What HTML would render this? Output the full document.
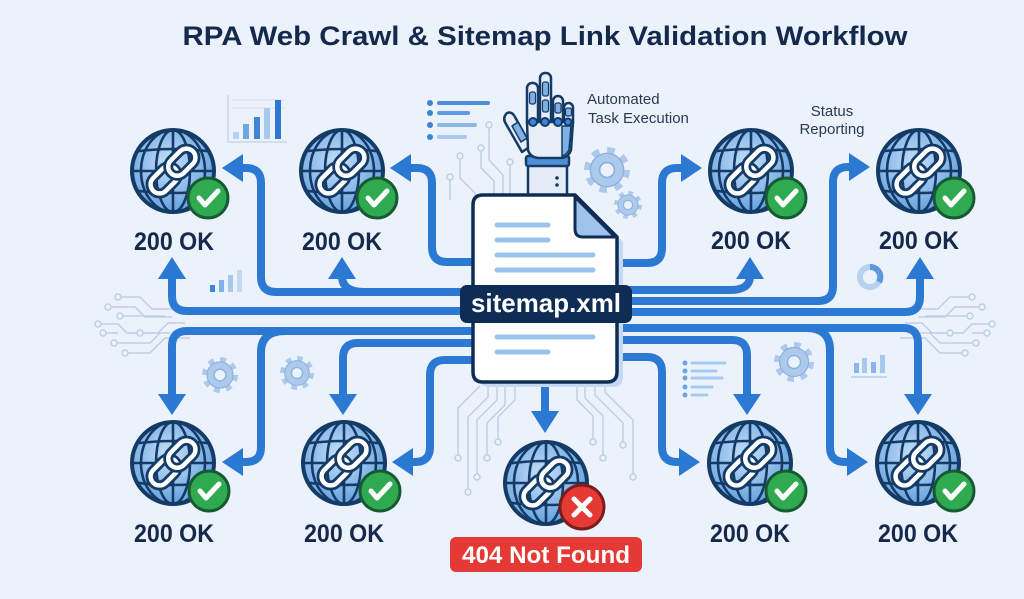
<!DOCTYPE html>
<html><head><meta charset="utf-8"><style>
html,body{margin:0;padding:0;background:#ebf2fb;}
svg{display:block;}
</style></head><body>
<svg width="1024" height="599" viewBox="0 0 1024 599" xmlns="http://www.w3.org/2000/svg" font-family="'Liberation Sans', sans-serif">
<defs>
 <radialGradient id="gg" cx="0.45" cy="0.4" r="0.65">
  <stop offset="0" stop-color="#c6e0f8"/>
  <stop offset="1" stop-color="#5e9cdc"/>
 </radialGradient>
 <clipPath id="gc"><circle r="40"/></clipPath>
 <g id="globe">
  <circle r="41" fill="url(#gg)"/>
  <g fill="none" stroke="#143a66" stroke-width="2.6" clip-path="url(#gc)">
   <ellipse rx="17" ry="41"/>
   <ellipse rx="32" ry="41"/>
   <line x1="0" y1="-41" x2="0" y2="41"/>
   <path d="M-41 -19 Q0 -25 41 -19"/>
   <line x1="-41" y1="0" x2="41" y2="0"/>
   <path d="M-41 19 Q0 25 41 19"/>
  </g>
  <circle r="41" fill="none" stroke="#143a66" stroke-width="4"/>
  <g transform="rotate(-45)" fill="none">
   <rect x="-28" y="-9" width="31" height="18" rx="9" stroke="#143a66" stroke-width="10"/>
   <rect x="-28" y="-9" width="31" height="18" rx="9" stroke="#ffffff" stroke-width="4.5"/>
   <rect x="-3" y="-9" width="31" height="18" rx="9" stroke="#143a66" stroke-width="10"/>
   <rect x="-3" y="-9" width="31" height="18" rx="9" stroke="#ffffff" stroke-width="4.5"/>
  </g>
 </g>
 <g id="ok">
  <circle r="20" fill="#2faa50" stroke="#165a33" stroke-width="3"/>
  <polyline points="-9,0 -3,7 10,-7" fill="none" stroke="#ffffff" stroke-width="5" stroke-linecap="round" stroke-linejoin="round"/>
 </g>
 <g id="gear">
  <circle r="17" fill="none" stroke="#adcaec" stroke-width="6" stroke-dasharray="6.5 6.85"/>
  <circle r="14.5" fill="#adcaec" stroke="#8db1dc" stroke-width="1.2"/>
  <circle r="6.5" fill="#ebf2fb" stroke="#8db1dc" stroke-width="1.5"/>
 </g>
 <g id="circL" fill="none" stroke="#bfd0e3" stroke-width="1.5">
  <path d="M121 297 H140 L152 309 H178"/>
  <path d="M111 307 H135 L145 317 H172"/>
  <path d="M123 316 H165"/>
  <path d="M101 324 H118 L127 333 H137"/>
  <path d="M106 333 H118"/>
  <path d="M143 333 H158 L168 323 H185"/>
  <path d="M117 343 H150 L160 333 H170"/>
  <path d="M128 353 H150 L165 338 H190"/>
  <circle cx="118" cy="297" r="3"/>
  <circle cx="108" cy="307" r="3"/>
  <circle cx="120" cy="316" r="3"/>
  <circle cx="98" cy="324" r="3"/>
  <circle cx="103" cy="333" r="3"/>
  <circle cx="140" cy="333" r="3"/>
  <circle cx="114" cy="343" r="3"/>
  <circle cx="125" cy="353" r="3"/>
 </g>
</defs>

<!-- title -->
<text x="545" y="45" text-anchor="middle" font-size="27" font-weight="bold" fill="#14294b" textLength="725" lengthAdjust="spacingAndGlyphs">RPA Web Crawl &amp; Sitemap Link Validation Workflow</text>

<!-- decorative circuits -->
<use href="#circL"/>
<use href="#circL" transform="translate(1090 0) scale(-1 1)"/>
<g fill="none" stroke="#bfd0e3" stroke-width="1.5">
 <path d="M489 128 V160 L503 175 V200"/>
 <path d="M481 151 V168 L494 181 V200"/>
 <path d="M460 159 V178 L475 193 V200"/>
 <path d="M450 180 V200"/>
 <path d="M510 165 V200"/>
 <circle cx="489" cy="125" r="3"/><circle cx="481" cy="148" r="3"/><circle cx="460" cy="156" r="3"/><circle cx="450" cy="177" r="3"/><circle cx="510" cy="162" r="3"/>
 <path d="M515 386 V400 L498 417 V439"/>
 <path d="M505 386 V405 L487 423 V455"/>
 <path d="M497 386 V400 L477 420 V474"/>
 <path d="M488 386 V397 L468 417 V489"/>
 <path d="M480 386 L458 408 V455"/>
 <path d="M577 386 V400 L593 416 V439"/>
 <path d="M585 386 V398 L603 416 V455"/>
 <path d="M595 386 V395 L623 423 V442"/>
 <path d="M605 386 V392 L633 420 V474"/>
 <circle cx="498" cy="442" r="3"/><circle cx="487" cy="458" r="3"/><circle cx="477" cy="477" r="3"/><circle cx="468" cy="492" r="3"/><circle cx="458" cy="458" r="3"/>
 <circle cx="593" cy="442" r="3"/><circle cx="603" cy="458" r="3"/><circle cx="623" cy="445" r="3"/><circle cx="633" cy="477" r="3"/>
</g>

<!-- small icons -->
<g>
 <line x1="228" y1="95" x2="228" y2="142" stroke="#c9d8ea" stroke-width="1.5"/>
 <line x1="228" y1="142" x2="287" y2="142" stroke="#c9d8ea" stroke-width="1.5"/>
 <line x1="232" y1="100" x2="285" y2="100" stroke="#d5e1ee" stroke-width="1"/>
 <line x1="232" y1="108" x2="285" y2="108" stroke="#d5e1ee" stroke-width="1"/>
 <rect x="233" y="132" width="6" height="7" fill="#b7d2f0"/>
 <rect x="243" y="124" width="6" height="15" fill="#6ea6e3"/>
 <rect x="254" y="117" width="6" height="22" fill="#3f85d6"/>
 <rect x="264" y="108" width="6" height="31" fill="#a8c9ef"/>
 <rect x="275" y="100" width="6" height="39" fill="#2f78d0"/>

 <rect x="210" y="285" width="5" height="7" fill="#3f85d6"/>
 <rect x="219" y="280" width="5" height="12" fill="#7fb0e6"/>
 <rect x="228" y="275" width="5" height="17" fill="#a8c9ef"/>
 <rect x="237" y="270" width="5" height="22" fill="#c3d9f2"/>

 <rect x="854" y="363" width="5" height="10" fill="#8ab7ea"/>
 <rect x="862" y="358" width="5" height="15" fill="#a8c9ef"/>
 <rect x="871" y="362" width="5" height="11" fill="#8ab7ea"/>
 <rect x="880" y="355" width="5" height="18" fill="#a8c9ef"/>
 <line x1="851" y1="377" x2="887" y2="377" stroke="#b7cde6" stroke-width="1.5"/>

 <circle cx="870" cy="277" r="10" fill="none" stroke="#b7d2f0" stroke-width="6"/>
 <path d="M870 267 A10 10 0 0 1 879 282" fill="none" stroke="#5b98dd" stroke-width="6"/>

 <g fill="#3c82d5">
  <circle cx="430" cy="103" r="3"/><circle cx="430" cy="113" r="3"/><circle cx="430" cy="125" r="3"/><circle cx="430" cy="137" r="3"/>
 </g>
 <g stroke-width="4" stroke-linecap="round">
  <line x1="439" y1="103" x2="488" y2="103" stroke="#4f8fda"/>
  <line x1="439" y1="113" x2="468" y2="113" stroke="#5f9be0"/>
  <line x1="439" y1="125" x2="475" y2="125" stroke="#8ab7ea"/>
  <line x1="439" y1="137" x2="465" y2="137" stroke="#a9c9ef"/>
 </g>
 <g fill="#6fa3df">
  <circle cx="685" cy="363" r="2.5"/><circle cx="685" cy="371" r="2.5"/><circle cx="685" cy="378" r="2.5"/><circle cx="685" cy="387" r="2.5"/><circle cx="685" cy="395" r="2.5"/>
 </g>
 <g stroke="#a9c9ef" stroke-width="3" stroke-linecap="round">
  <line x1="692" y1="363" x2="725" y2="363"/>
  <line x1="692" y1="371" x2="716" y2="371"/>
  <line x1="692" y1="378" x2="722" y2="378"/>
  <line x1="692" y1="387" x2="712" y2="387"/>
  <line x1="692" y1="395" x2="707" y2="395"/>
 </g>

 <use href="#gear" transform="translate(607 170) scale(1.15)"/>
 <use href="#gear" transform="translate(628 205) scale(0.7)"/>
 <use href="#gear" transform="translate(220 375) scale(0.9)"/>
 <use href="#gear" transform="translate(297 373) scale(0.85)"/>
 <use href="#gear" transform="translate(794 362) scale(1.0)"/>
</g>

<!-- connectors -->
<g fill="none" stroke="#2b79d3" stroke-width="8" stroke-linejoin="round">
 <path d="M475 262 H447 Q432 262 432 247 V183 Q432 168 417 168 H408"/>
 <path d="M475 292 H276 Q261 292 261 277 V183 Q261 168 246 168 H240"/>
 <path d="M364 292 Q342 292 342 276"/>
 <path d="M475 311 H187 Q172 311 172 296 V276"/>
 <path d="M475 331 H187 Q172 331 172 346 V396"/>
 <path d="M286 331 Q261 331 261 352 V447 Q261 462 246 462 H240"/>
 <path d="M475 343 H358 Q343 343 343 358 V396"/>
 <path d="M475 360 H445 Q430 360 430 375 V447 Q430 462 415 462 H410"/>

 <path d="M617 263 H647 Q662 263 662 248 V183 Q662 168 677 168 H684"/>
 <path d="M617 290 H730 Q750 290 750 276"/>
 <path d="M617 301 H818 Q833 301 833 286 V182 Q833 167 848 167 H852"/>
 <path d="M617 312 H905 Q920 312 920 297 V276"/>
 <path d="M617 328 H903 Q918 328 918 343 V396"/>
 <path d="M806 328 Q830 328 830 350 V447 Q830 462 845 462 H850"/>
 <path d="M617 340 H732 Q747 340 747 355 V396"/>
 <path d="M617 357 H647 Q662 357 662 372 V447 Q662 462 677 462 H682"/>
 <path d="M545 380 V414"/>
</g>
<g fill="#2b79d3">
 <polygon points="390,168 411,154 411,182"/>
 <polygon points="222,168 243,154 243,182"/>
 <polygon points="342,257 328,279 356,279"/>
 <polygon points="172,257 158,279 186,279"/>
 <polygon points="172,415 158,394 186,394"/>
 <polygon points="222,462 243,448 243,476"/>
 <polygon points="343,415 329,394 357,394"/>
 <polygon points="392,462 413,448 413,476"/>
 <polygon points="702,168 681,154 681,182"/>
 <polygon points="750,257 736,279 764,279"/>
 <polygon points="870,167 849,153 849,181"/>
 <polygon points="920,257 906,279 934,279"/>
 <polygon points="918,415 904,394 932,394"/>
 <polygon points="868,462 847,448 847,476"/>
 <polygon points="747,415 733,394 761,394"/>
 <polygon points="700,462 679,448 679,476"/>
 <polygon points="545,433 531,411 559,411"/>
</g>

<!-- robot hand -->
<g stroke="#143a66" stroke-width="2.5" stroke-linejoin="round">
 <rect x="528" y="160" width="39" height="37" fill="#e3ecf7"/>
 <rect x="526" y="156" width="43" height="10" rx="2" fill="#4e8fd8"/>
 <path d="M507 113 Q502 118 506 124 L522 152 L531 146 L515 117 Q512 111 507 113 Z" fill="#e8eef7"/>
 <path d="M512 126 L521 142 L527 138 L518 122 Z" fill="#7fb0e6" stroke-width="1.5"/>
 <rect x="527" y="83" width="11" height="44" rx="5" fill="#e8eef7"/>
 <rect x="540" y="73" width="11" height="54" rx="5" fill="#e8eef7"/>
 <rect x="553" y="96" width="10" height="31" rx="5" fill="#e8eef7"/>
 <rect x="564" y="103" width="9" height="24" rx="4.5" fill="#e8eef7"/>
 <path d="M527 122 L573 122 L571 150 Q568 158 560 158 L538 158 Q530 157 528 150 Z" fill="#e8eef7"/>
 <path d="M562 126 L571 126 L569 150 Q566 155 562 156 Z" fill="#7fb0e6" stroke-width="1.5"/>
</g>
<g fill="#7fb0e6" stroke="#143a66" stroke-width="1.2">
 <rect x="529.5" y="92" width="6" height="12" rx="2"/>
 <rect x="542.5" y="82" width="6" height="14" rx="2"/>
 <rect x="542.5" y="100" width="6" height="12" rx="2"/>
 <rect x="555" y="103" width="6" height="10" rx="2"/>
 <rect x="565.5" y="108" width="6" height="8" rx="2"/>
</g>
<g fill="#3f84d6" stroke="#143a66" stroke-width="2">
 <circle cx="533" cy="122" r="4"/><circle cx="545" cy="122" r="4"/><circle cx="558" cy="122" r="4"/><circle cx="568" cy="122" r="3.5"/>
</g>
<circle cx="557" cy="178" r="1.8" fill="#143a66"/>
<circle cx="557" cy="185" r="1.8" fill="#143a66"/>

<!-- document -->
<path d="M489 200 L581 200 L623 242 L623 377 Q623 387 613 387 L489 387 Q479 387 479 377 L479 210 Q479 200 489 200 Z" fill="#c5daf2"/>
<path d="M483 195 L575 195 L617 237 L617 372 Q617 382 607 382 L483 382 Q473 382 473 372 L473 205 Q473 195 483 195 Z" fill="#ffffff" stroke="#0f2c55" stroke-width="3.5" stroke-linejoin="round"/>
<path d="M575 197 L575 229 Q575 237 583 237 L615 237 Z" fill="#9cc3ec" stroke="#0f2c55" stroke-width="3" stroke-linejoin="round"/>
<g stroke="#9cc3ec" stroke-width="5" stroke-linecap="round">
 <line x1="497" y1="225" x2="548" y2="225"/>
 <line x1="497" y1="240" x2="548" y2="240"/>
 <line x1="497" y1="255" x2="593" y2="255"/>
 <line x1="497" y1="270" x2="593" y2="270"/>
 <line x1="497" y1="337" x2="593" y2="337"/>
 <line x1="497" y1="352" x2="548" y2="352"/>
</g>
<rect x="460" y="285" width="172" height="38" rx="7" fill="#0f2c55"/>
<text x="546" y="312" text-anchor="middle" font-size="26" font-weight="bold" fill="#ffffff" textLength="150" lengthAdjust="spacingAndGlyphs">sitemap.xml</text>

<!-- labels near hand -->
<text x="587" y="104" font-size="15" fill="#2b3a4e">Automated</text>
<text x="588" y="123" font-size="15" fill="#2b3a4e">Task Execution</text>
<text x="832" y="116" text-anchor="middle" font-size="15" fill="#2b3a4e">Status</text>
<text x="832" y="134" text-anchor="middle" font-size="15" fill="#2b3a4e">Reporting</text>

<!-- globes -->
<use href="#globe" x="173" y="171"/>
<use href="#globe" x="342" y="171"/>
<use href="#globe" x="751" y="171"/>
<use href="#globe" x="919" y="171"/>
<use href="#globe" x="173" y="463"/>
<use href="#globe" x="344" y="463"/>
<use href="#globe" x="750" y="463"/>
<use href="#globe" x="918" y="463"/>
<use href="#globe" x="546" y="483"/>

<use href="#ok" x="208" y="198"/>
<use href="#ok" x="377" y="198"/>
<use href="#ok" x="786" y="198"/>
<use href="#ok" x="954" y="198"/>
<use href="#ok" x="209" y="491"/>
<use href="#ok" x="380" y="491"/>
<use href="#ok" x="786" y="491"/>
<use href="#ok" x="954" y="491"/>

<g transform="translate(582 507)">
 <circle r="22" fill="#e53935" stroke="#7d1c1c" stroke-width="3"/>
 <line x1="-8" y1="-8" x2="8" y2="8" stroke="#fff" stroke-width="5" stroke-linecap="round"/>
 <line x1="8" y1="-8" x2="-8" y2="8" stroke="#fff" stroke-width="5" stroke-linecap="round"/>
</g>

<g font-size="25" font-weight="bold" fill="#16294a" text-anchor="middle">
 <text x="174" y="250" textLength="80" lengthAdjust="spacingAndGlyphs">200 OK</text>
 <text x="342" y="250" textLength="80" lengthAdjust="spacingAndGlyphs">200 OK</text>
 <text x="751" y="249" textLength="80" lengthAdjust="spacingAndGlyphs">200 OK</text>
 <text x="919" y="249" textLength="80" lengthAdjust="spacingAndGlyphs">200 OK</text>
 <text x="174" y="542" textLength="80" lengthAdjust="spacingAndGlyphs">200 OK</text>
 <text x="344" y="542" textLength="80" lengthAdjust="spacingAndGlyphs">200 OK</text>
 <text x="750" y="542" textLength="80" lengthAdjust="spacingAndGlyphs">200 OK</text>
 <text x="918" y="542" textLength="80" lengthAdjust="spacingAndGlyphs">200 OK</text>
</g>

<rect x="450" y="537" width="192" height="35" rx="6" fill="#e53935"/>
<text x="546" y="563" text-anchor="middle" font-size="24" font-weight="bold" fill="#ffffff" textLength="168" lengthAdjust="spacingAndGlyphs">404 Not Found</text>
</svg>
</body></html>
